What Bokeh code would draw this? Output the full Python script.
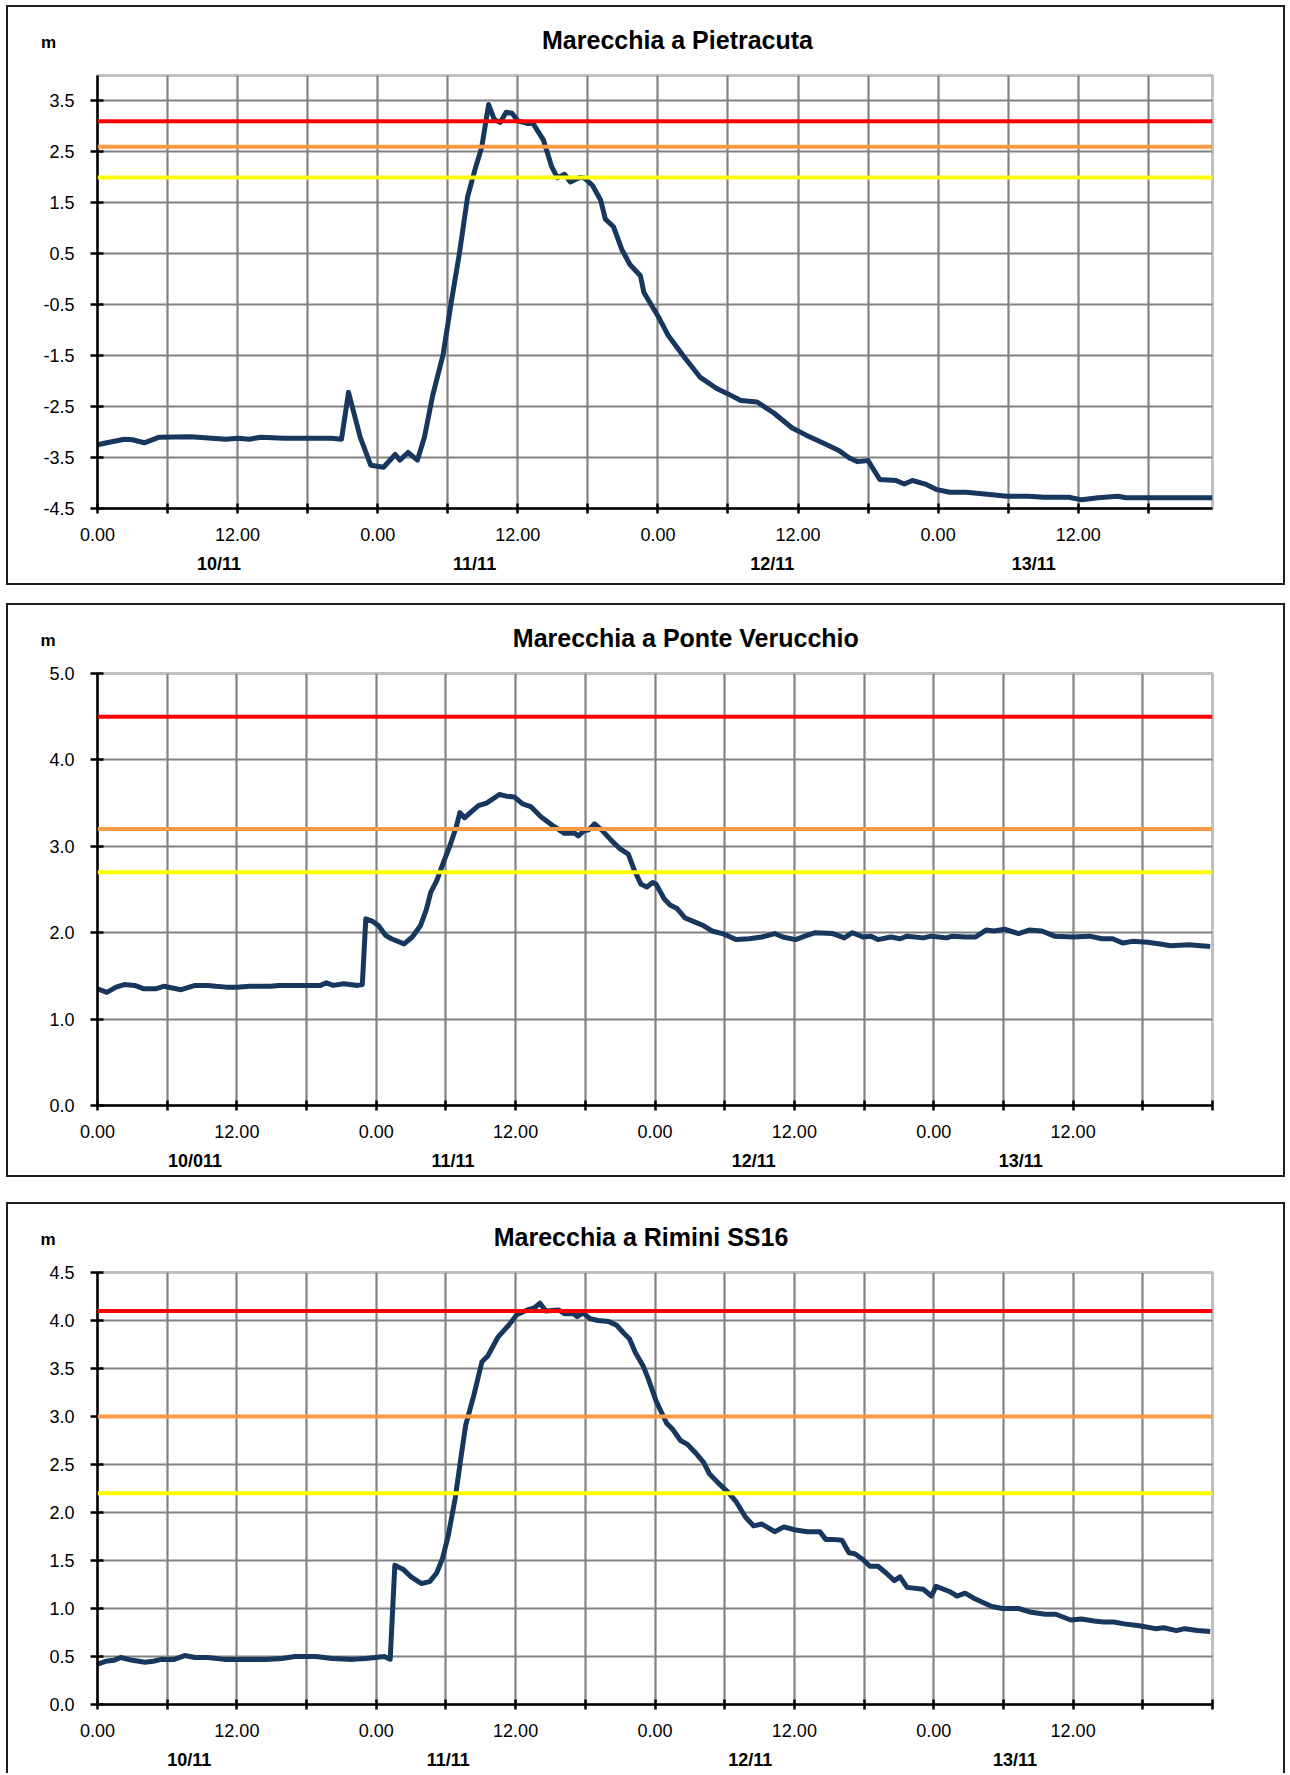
from bokeh.plotting import figure
from bokeh.models import (Range1d, FixedTicker, Label, Span, NumeralTickFormatter, InlineStyleSheet,
                          Spacer, LinearAxis)
from bokeh.layouts import column, row
from bokeh.embed import file_html
from bokeh.resources import INLINE

# ---------------- data ----------------
titles = ["Marecchia a Pietracuta", "Marecchia a Ponte Verucchio", "Marecchia a Rimini SS16"]
unit_label = "m"

# hours from 10/11 00:00
p1_hours = [0, 1, 2.3, 3, 4, 5.3, 8, 11, 12, 13, 14, 16, 18, 20, 20.9, 21.5, 22.5, 23.4, 24.5, 25.5,
            25.9, 26.6, 27.4, 28.0, 28.7, 29.6, 30.3, 31.0, 31.7, 32.4, 32.9, 33.5, 34.0, 34.5, 35.0,
            35.5, 36.0, 36.8, 37.3, 38.2, 38.9, 39.4, 40.0, 40.5, 41.3, 41.7, 42.4, 43.1, 43.5, 44.2,
            44.9, 45.6, 46.5, 46.8, 48.05, 48.9, 50.2, 51.6, 53.0, 54.0, 55.1, 56.5, 57.9, 59.5, 60.7,
            62.1, 63.5, 64.4, 65.1, 66.0, 67.0, 68.4, 69.1, 69.8, 70.9, 71.9, 73.0, 74.4, 76.2, 77.9,
            79.7, 81.1, 83.2, 84.3, 85.7, 87.4, 88.1, 95.5]
p1_level = [-3.25, -3.20, -3.14, -3.15, -3.21, -3.10, -3.09, -3.14, -3.12, -3.14, -3.10, -3.12, -3.12,
            -3.12, -3.14, -2.22, -3.10, -3.65, -3.69, -3.44, -3.55, -3.40, -3.55, -3.10, -2.29, -1.48,
            -0.45, 0.51, 1.62, 2.21, 2.58, 3.43, 3.13, 3.08, 3.28, 3.26, 3.11, 3.06, 3.06, 2.73, 2.21,
            1.99, 2.06, 1.91, 2.00, 1.99, 1.84, 1.55, 1.18, 1.03, 0.59, 0.29, 0.07, -0.26, -0.74, -1.11,
            -1.51, -1.92, -2.14, -2.25, -2.38, -2.41, -2.62, -2.92, -3.06, -3.21, -3.36, -3.51, -3.58,
            -3.56, -3.93, -3.95, -4.02, -3.95, -4.02, -4.13, -4.18, -4.18, -4.22, -4.26, -4.26, -4.28,
            -4.28, -4.33, -4.29, -4.26, -4.29, -4.29]

p2_hours = [0, 0.8, 1.6, 2.3, 3.2, 4, 5, 5.7, 7.2, 8.4, 9.5, 10.2, 11.1, 12, 13.1, 14.9, 15.6, 16.7,
            18.1, 19.2, 19.7, 20.3, 21.2, 22.4, 22.8, 23.1, 23.7, 24.2, 24.8, 25.3, 26.4, 27.1, 27.8,
            28.3, 28.7, 29.2, 29.8, 30.3, 30.9, 31.2, 31.6, 32.1, 32.8, 33.5, 34.6, 35.2, 35.9, 36.6,
            37.3, 38.2, 39.3, 40.2, 41.1, 41.4, 41.9, 42.3, 42.8, 43.4, 44.3, 45.0, 45.7, 46.2, 46.8,
            47.3, 47.8, 48.1, 48.8, 49.3, 49.9, 50.6, 51.5, 52.2, 52.9, 53.8, 55.0, 56.1, 57.2, 58.3,
            59.0, 60.1, 60.9, 61.8, 63.3, 64.3, 65.0, 65.9, 66.6, 67.2, 68.3, 69.1, 69.7, 71.1, 71.8,
            73.1, 73.6, 74.7, 75.6, 76.5, 77.2, 78.1, 79.3, 80.2, 81.3, 82.4, 84.0, 85.4, 86.5, 87.4,
            88.3, 89.1, 90.4, 91.5, 92.4, 94.0, 95.0, 95.8]
p2_level = [1.35, 1.31, 1.37, 1.40, 1.39, 1.35, 1.35, 1.38, 1.34, 1.39, 1.39, 1.38, 1.37, 1.37, 1.38,
            1.38, 1.39, 1.39, 1.39, 1.39, 1.42, 1.39, 1.41, 1.39, 1.40, 2.16, 2.13, 2.08, 1.97, 1.93,
            1.87, 1.95, 2.08, 2.26, 2.47, 2.60, 2.82, 2.99, 3.23, 3.39, 3.33, 3.39, 3.47, 3.50, 3.60,
            3.58, 3.57, 3.49, 3.46, 3.34, 3.23, 3.15, 3.15, 3.12, 3.18, 3.19, 3.26, 3.19, 3.06, 2.97,
            2.91, 2.73, 2.56, 2.53, 2.58, 2.56, 2.39, 2.32, 2.28, 2.17, 2.12, 2.08, 2.02, 1.99, 1.92,
            1.93, 1.95, 1.99, 1.95, 1.92, 1.96, 2.00, 1.99, 1.94, 2.00, 1.95, 1.96, 1.92, 1.95, 1.93,
            1.96, 1.94, 1.96, 1.94, 1.96, 1.95, 1.95, 2.03, 2.02, 2.04, 1.99, 2.03, 2.02, 1.96, 1.95,
            1.96, 1.93, 1.93, 1.88, 1.90, 1.89, 1.87, 1.85, 1.86, 1.85, 1.84]

p3_hours = [0, 0.7, 1.4, 2, 3, 4.1, 4.8, 5.5, 6.6, 7.5, 8.4, 9.5, 10.9, 12.3, 14.5, 15.9, 17, 18.8,
            20.2, 22, 23.1, 24.7, 25.2, 25.6, 26.3, 27, 27.9, 28.6, 29.2, 29.7, 30.2, 30.8, 31.3, 31.7,
            32.4, 33.1, 33.6, 34.5, 35.4, 36.1, 37, 37.6, 38.1, 38.6, 39.7, 40.2, 41, 41.3, 41.8, 42.4,
            43.1, 44, 44.7, 45.3, 45.8, 46.3, 47.0, 47.4, 48.1, 49.0, 49.5, 50.2, 50.8, 51.5, 52.2,
            52.7, 53.6, 54.3, 55.0, 55.8, 56.5, 57.2, 58.3, 59.1, 60.0, 61.1, 62.2, 62.7, 63.3, 64.1,
            64.7, 65.2, 65.9, 66.5, 67.2, 67.9, 68.6, 69.1, 69.7, 71.1, 71.8, 72.2, 73.3, 74.0, 74.7,
            75.4, 76.1, 77.0, 77.9, 79.3, 80.4, 81.6, 82.5, 83.8, 84.7, 85.8, 86.6, 87.5, 88.4, 89.7,
            91.1, 91.8, 92.9, 93.6, 94.7, 95.8]
p3_level = [0.42, 0.45, 0.46, 0.49, 0.46, 0.44, 0.45, 0.47, 0.47, 0.51, 0.49, 0.49, 0.47, 0.47, 0.47,
            0.48, 0.50, 0.50, 0.48, 0.47, 0.48, 0.50, 0.47, 1.45, 1.41, 1.33, 1.26, 1.28, 1.37, 1.52,
            1.76, 2.15, 2.58, 2.91, 3.22, 3.57, 3.63, 3.83, 3.95, 4.06, 4.11, 4.13, 4.18, 4.10, 4.11,
            4.07, 4.07, 4.04, 4.08, 4.02, 4.00, 3.99, 3.95, 3.87, 3.81, 3.67, 3.52, 3.40, 3.16, 2.93,
            2.87, 2.75, 2.71, 2.62, 2.52, 2.40, 2.29, 2.21, 2.11, 1.95, 1.86, 1.88, 1.80, 1.85, 1.82,
            1.80, 1.80, 1.72, 1.72, 1.71, 1.58, 1.57, 1.51, 1.44, 1.44, 1.37, 1.29, 1.33, 1.22, 1.20,
            1.13, 1.23, 1.18, 1.13, 1.16, 1.11, 1.07, 1.02, 1.00, 1.00, 0.96, 0.94, 0.94, 0.88, 0.89,
            0.87, 0.86, 0.86, 0.84, 0.82, 0.79, 0.80, 0.77, 0.79, 0.77, 0.76]

# alert thresholds (red, orange, yellow)
p1_thresholds = [3.1, 2.6, 2.0]
p2_thresholds = [4.5, 3.2, 2.7]
p3_thresholds = [4.1, 3.0, 2.2]

p1_y_ticks = [-4.5, -3.5, -2.5, -1.5, -0.5, 0.5, 1.5, 2.5, 3.5]
p2_y_ticks = [0.0, 1.0, 2.0, 3.0, 4.0, 5.0]
p3_y_ticks = [0.0, 0.5, 1.0, 1.5, 2.0, 2.5, 3.0, 3.5, 4.0, 4.5]

x_ticks = [0, 6, 12, 18, 24, 30, 36, 42, 48, 54, 60, 66, 72, 78, 84, 90, 96]
x_tick_labels = ["0.00", "", "12.00", "", "0.00", "", "12.00", "", "0.00", "", "12.00", "", "0.00",
                 "", "12.00", "", ""]

p1_dates = ["10/11", "11/11", "12/11", "13/11"]
p2_dates = ["10/011", "11/11", "12/11", "13/11"]
p3_dates = ["10/11", "11/11", "12/11", "13/11"]
p1_date_hours = [10.4, 32.3, 57.8, 80.2]
p2_date_hours = [8.4, 30.6, 56.5, 79.5]
p3_date_hours = [7.9, 30.2, 56.2, 79.0]

# ---------------- styling / layout ----------------
W = 1279
LEFT = 91
PAGE_X0 = 6
THR_COLORS = ["#ff0000", "#f99a45", "#ffff00"]
LINE_COLOR = "#17375e"
GRID_COLOR = "#828282"
FONT = "Liberation Sans"
TITLE_PX = 25
# Arial/Liberation Sans Bold advance widths (1/1000 em), used to centre the titles
BOLD_W = {"M": 833, "a": 556, "r": 389, "e": 556, "c": 556, "h": 611, "i": 278, " ": 278,
          "P": 667, "t": 333, "u": 611, "o": 611, "n": 611, "V": 667, "R": 722, "m": 889,
          "S": 667, "1": 556, "6": 556}


def text_width(s, px):
    return sum(BOLD_W.get(ch, 556) for ch in s) * px / 1000.0


def make_panel(title, hours, levels, thresholds, y0, y1, y_ticks, x_end, dates, date_hours,
               height, top, bottom, right, title_cx, bottom_border=True):
    p = figure(width=W, height=height, x_range=Range1d(0, x_end), y_range=Range1d(y0, y1),
               output_backend="svg", toolbar_location=None,
               min_border_left=LEFT, min_border_right=right, min_border_top=top,
               min_border_bottom=bottom, background_fill_color="white",
               border_fill_color="white")
    frame_w = W - LEFT - right
    frame_h = height - top - bottom
    xpp = frame_w / x_end
    ypp = frame_h / (y1 - y0)
    frame_left_page = PAGE_X0 + LEFT

    # title: centre ~34.5px below the top edge of the panel (keeps title band inside top border)
    title_c = 34.5
    p.title.text = title
    p.title.text_font = FONT
    p.title.text_font_size = f"{TITLE_PX}px"
    p.title.text_font_style = "bold"
    p.title.text_color = "black"
    p.title.align = "left"
    p.title.vertical_align = "top"
    p.title.offset = title_cx - text_width(title, TITLE_PX) / 2 - frame_left_page
    p.title.standoff = 2 * (top - 2 - title_c) - TITLE_PX

    ticks = [t for t in x_ticks if t <= x_end]
    p.xaxis.ticker = FixedTicker(ticks=ticks)
    p.xaxis.major_label_overrides = {t: lab for t, lab in zip(x_ticks, x_tick_labels) if t <= x_end}
    p.yaxis.ticker = FixedTicker(ticks=y_ticks)
    p.yaxis.formatter = NumeralTickFormatter(format="0.0")

    p.xgrid.ticker = FixedTicker(ticks=[t for t in ticks if 0 < t < x_end])
    p.ygrid.ticker = FixedTicker(ticks=[t for t in y_ticks if y0 < t < y1])
    for g in (p.xgrid[0], p.ygrid[0]):
        g.grid_line_color = GRID_COLOR
        g.grid_line_width = 2.2

    for ax in (p.xaxis[0], p.yaxis[0]):
        ax.axis_line_color = "black"
        ax.axis_line_width = 2.5
        ax.major_tick_line_color = "black"
        ax.major_tick_line_width = 2.5
        ax.minor_tick_line_color = None
        ax.major_label_text_font = FONT
        ax.major_label_text_font_size = "18px"
        ax.major_label_text_color = "black"
    p.xaxis.major_tick_in = 5
    p.xaxis.major_tick_out = 5
    p.xaxis.major_label_standoff = 14
    p.yaxis.major_tick_in = 6
    p.yaxis.major_tick_out = 7
    p.yaxis.major_label_standoff = 16

    # date row: a second, line-less axis below the time axis
    date_axis = LinearAxis(ticker=FixedTicker(ticks=date_hours),
                           major_label_overrides={h: d for h, d in zip(date_hours, dates)},
                           axis_line_color=None, major_tick_line_color=None,
                           minor_tick_line_color=None, major_tick_in=0, major_tick_out=0,
                           major_label_standoff=10, major_label_text_font=FONT,
                           major_label_text_font_size="18px", major_label_text_font_style="bold",
                           major_label_text_color="black")
    p.add_layout(date_axis, "below")

    p.outline_line_color = "#c0c0c0"
    p.outline_line_width = 3

    for v, c in zip(thresholds, THR_COLORS):
        p.add_layout(Span(location=v, dimension="width", line_color=c, line_width=4))

    p.line(hours, levels, line_color=LINE_COLOR, line_width=5, line_join="round")

    # unit label at the top-left corner (placed in the left side panel so it is not clipped)
    p.add_layout(Label(x=(47.5 - frame_left_page) / xpp, y=y1 + 33.5 / ypp, text=unit_label,
                       text_font=FONT, text_font_size="17px", text_font_style="bold",
                       text_align="center", text_baseline="middle", text_color="black"),
                 "left")

    border = "border:2px solid #1e1e1e;" + ("" if bottom_border else "border-bottom:none;")
    p.stylesheets = [InlineStyleSheet(css=":host{position:relative;} :host::after{content:'';position:absolute;"
                                          "left:0;top:0;right:0;bottom:0;" + border +
                                          "pointer-events:none;z-index:100;}")]
    return p


p1 = make_panel(titles[0], p1_hours, p1_level, p1_thresholds, -4.5, 4.0, p1_y_ticks, 95.5,
                p1_dates, p1_date_hours, height=580, top=69, bottom=77, right=60, title_cx=677)
p2 = make_panel(titles[1], p2_hours, p2_level, p2_thresholds, 0.0, 5.0, p2_y_ticks, 96,
                p2_dates, p2_date_hours, height=574, top=69, bottom=72, right=73, title_cx=686)
p3 = make_panel(titles[2], p3_hours, p3_level, p3_thresholds, 0.0, 4.5, p3_y_ticks, 96,
                p3_dates, p3_date_hours, height=571, top=69, bottom=69, right=73, title_cx=640.5,
                bottom_border=False)

stack = column(p1, Spacer(height=18, width=10), p2, Spacer(height=25, width=10), p3)
layout = column(Spacer(height=5, width=10), row(Spacer(width=6, height=10), stack))

open("out.html", "w").write(file_html(layout, INLINE))
